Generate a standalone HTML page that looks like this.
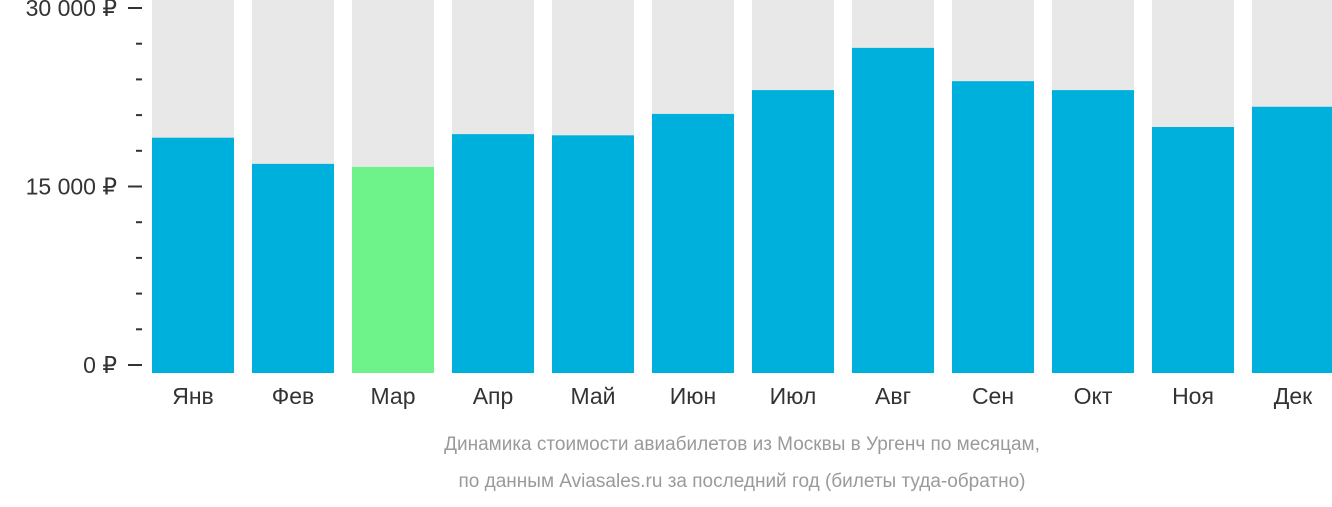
<!DOCTYPE html>
<html><head><meta charset="utf-8"><style>
body{margin:0;background:#fff;font-family:"Liberation Sans","DejaVu Sans",sans-serif}
</style></head><body>
<svg width="1332" height="502">
<g id="bars"></g><g id="axis"></g>
<text x="742" y="450" text-anchor="middle" font-size="19" fill="#9a9a9a">Динамика стоимости авиабилетов из Москвы в Ургенч по месяцам,</text>
<text x="742" y="487" text-anchor="middle" font-size="19" fill="#9a9a9a">по данным Aviasales.ru за последний год (билеты туда-обратно)</text>
</svg>
<script>
const months=["Янв","Фев","Мар","Апр","Май","Июн","Июл","Авг","Сен","Окт","Ноя","Дек"];
const prices=[19100,16900,16650,19400,19300,21100,23100,26650,23850,23100,20000,21700];
const highlight=[false,false,true,false,false,false,false,false,false,false,false,false];
const tickValues=[0,15000,30000];
const tickLabels=["0 ₽","15 000 ₽","30 000 ₽"];
const NS="http://www.w3.org/2000/svg";
const y0=365,yTop=8,vmax=30000;
const y=v=>y0-(y0-yTop)*v/vmax;
const x=i=>152+i*100;
const bars=document.getElementById('bars'),axis=document.getElementById('axis');
function mk(t,a,p){const e=document.createElementNS(NS,t);for(const k in a)e.setAttribute(k,a[k]);p.appendChild(e);return e;}
months.forEach((m,i)=>{
 const bg=mk('rect',{x:x(i),y:0,width:82,height:373,fill:'#e8e8e8'},bars);
 
 
 const b=mk('rect',{x:x(i),y:y(prices[i]),width:82,height:373-y(prices[i]),fill:highlight[i]?'#6ef28a':'#00b0dc'},bars);
 
 
 const t=mk('text',{x:x(i)+41,y:404,'text-anchor':'middle','font-size':23,fill:'#333'},bars);
 t.textContent=m;
 
 
});
for(let k=0;k<=10;k++){
 const v=k*3000,major=k%5==0;
 const l=mk('line',{x1:major?128:136,x2:142,y1:y(v),y2:y(v),stroke:'#333','stroke-width':2},axis);
 
 
}
tickValues.forEach((v,i)=>{
 const t=mk('text',{x:117,y:y(v)+8,'text-anchor':'end','font-size':23,fill:'#333'},axis);
 t.textContent=tickLabels[i];
 
 
});
</script>
</body></html>
